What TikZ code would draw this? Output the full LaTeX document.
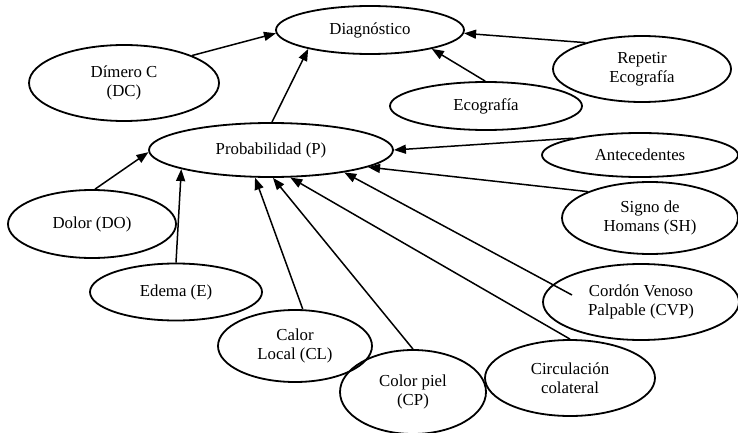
\documentclass[tikz,border=0pt]{standalone}
\usepackage{fontspec}
\setmainfont{Liberation Serif}
\usetikzlibrary{shapes.geometric,arrows.meta}
\begin{document}
\begin{tikzpicture}[x=1pt,y=-1pt,
  ell/.style={draw=black, ellipse, line width=1.8pt, inner sep=0pt, align=center, font=\fontsize{16.8}{19}\selectfont},
  arr/.style={-{Triangle[length=12pt,width=9pt]}, line width=1.5pt},
]
\useasboundingbox (0,0) rectangle (738,433);
\node[ell, minimum width=188pt, minimum height=48pt] (diag) at (370,30) {Diagnóstico};
\node[ell, minimum width=190pt, minimum height=76pt] (dc) at (124,83) {Dímero C\\(DC)};
\node[ell, minimum width=178pt, minimum height=66pt] (rep) at (642,69) {Repetir\\Ecografía};
\node[ell, minimum width=192pt, minimum height=48pt] (eco) at (486,106) {Ecografía};
\node[ell, minimum width=244pt, minimum height=54pt] (p) at (271,150) {Probabilidad (P)};
\node[ell, minimum width=196pt, minimum height=44pt] (ant) at (640,155) {Antecedentes};
\node[ell, minimum width=168pt, minimum height=68pt] (dol) at (92,224) {Dolor (DO)};
\node[ell, minimum width=176pt, minimum height=72pt] (sh) at (650,218) {Signo de\\Homans (SH)};
\node[ell, minimum width=172pt, minimum height=57pt] (e) at (176,292) {Edema (E)};
\node[ell, minimum width=196pt, minimum height=76pt] (cvp) at (641,302) {Cordón Venoso\\Palpable (CVP)};
\node[ell, minimum width=154pt, minimum height=72pt] (cl) at (295,346) {Calor\\Local (CL)};
\node[ell, minimum width=146pt, minimum height=84pt] (cp) at (413,392) {Color piel\\(CP)};
\node[ell, minimum width=170pt, minimum height=76pt] (circ) at (570,378) {Circulación\\colateral};
\coordinate (cvpin) at (572,295);

\draw[arr] (dc.22) -- (diag.182);
\draw[arr] (p.88) -- (diag.197);
\draw[arr] (eco.92) -- (diag.343);
\draw[arr] (rep.155) -- (diag.358);
\draw[arr] (dol.85) -- (p.181);
\draw[arr] (e.90) -- (p.192);
\draw[arr] (cl.78) -- (p.240);
\draw[arr] (cp.90) -- (p.274);
\draw[arr] (circ.90) -- (p.305);
\draw[arr] (cvpin) -- (p.343);
\draw[arr] (sh.157) -- (p.350);
\draw[arr] (ant.166) -- (p.0);
\end{tikzpicture}
\end{document}
